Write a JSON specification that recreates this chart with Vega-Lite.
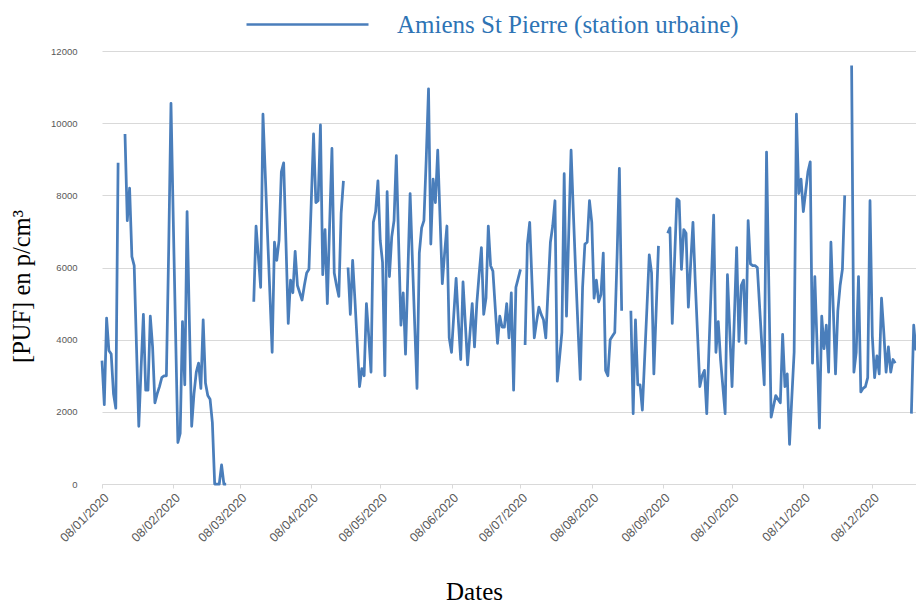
{
  "$schema": "https://vega.github.io/schema/vega-lite/v6.json",
  "width": 814,
  "height": 433,
  "autosize": {"type": "none"},
  "padding": {"left": 102, "top": 51, "right": 0, "bottom": 119},
  "background": "white",
  "config": {"view": {"stroke": null}},
  "data": {"values": [
    {"date":"2020-01-08","pm":3420},{"date":"2020-01-09","pm":2200},{"date":"2020-01-10","pm":4600},{"date":"2020-01-11","pm":3700},{"date":"2020-01-12","pm":3600},{"date":"2020-01-13","pm":2500},{"date":"2020-01-14","pm":2100},{"date":"2020-01-15","pm":8900},{"date":"2020-01-16","pm":null},{"date":"2020-01-18","pm":9700},{"date":"2020-01-19","pm":7300},{"date":"2020-01-20","pm":8200},{"date":"2020-01-21","pm":6300},{"date":"2020-01-22","pm":6050},{"date":"2020-01-23","pm":3800},{"date":"2020-01-24","pm":1600},{"date":"2020-01-25","pm":3200},{"date":"2020-01-26","pm":4700},{"date":"2020-01-27","pm":2600},{"date":"2020-01-28","pm":2600},{"date":"2020-01-29","pm":4650},{"date":"2020-01-30","pm":3800},{"date":"2020-01-31","pm":2250},
    {"date":"2020-02-01","pm":2500},{"date":"2020-02-02","pm":2700},{"date":"2020-02-03","pm":2950},{"date":"2020-02-04","pm":3000},{"date":"2020-02-05","pm":3000},{"date":"2020-02-06","pm":6500},{"date":"2020-02-07","pm":10550},{"date":"2020-02-08","pm":7300},{"date":"2020-02-09","pm":4200},{"date":"2020-02-10","pm":1150},{"date":"2020-02-11","pm":1400},{"date":"2020-02-12","pm":4500},{"date":"2020-02-13","pm":2750},{"date":"2020-02-14","pm":7550},{"date":"2020-02-15","pm":4500},{"date":"2020-02-16","pm":1600},{"date":"2020-02-17","pm":2500},{"date":"2020-02-18","pm":3100},{"date":"2020-02-19","pm":3350},{"date":"2020-02-20","pm":2650},{"date":"2020-02-21","pm":4550},{"date":"2020-02-22","pm":2800},{"date":"2020-02-23","pm":2450},{"date":"2020-02-24","pm":2350},{"date":"2020-02-25","pm":1700},{"date":"2020-02-26","pm":0},{"date":"2020-02-27","pm":0},{"date":"2020-02-28","pm":0},{"date":"2020-02-29","pm":530},
    {"date":"2020-03-01","pm":0},{"date":"2020-03-02","pm":0},{"date":"2020-03-03","pm":null},{"date":"2020-03-14","pm":5050},{"date":"2020-03-15","pm":7150},{"date":"2020-03-16","pm":6300},{"date":"2020-03-17","pm":5450},{"date":"2020-03-18","pm":10250},{"date":"2020-03-19","pm":8600},{"date":"2020-03-20","pm":6900},{"date":"2020-03-21","pm":5300},{"date":"2020-03-22","pm":3650},{"date":"2020-03-23","pm":6700},{"date":"2020-03-24","pm":6200},{"date":"2020-03-25","pm":6750},{"date":"2020-03-26","pm":8650},{"date":"2020-03-27","pm":8900},{"date":"2020-03-28","pm":6700},{"date":"2020-03-29","pm":4450},{"date":"2020-03-30","pm":5650},{"date":"2020-03-31","pm":5300},
    {"date":"2020-04-01","pm":6450},{"date":"2020-04-02","pm":5500},{"date":"2020-04-03","pm":5300},{"date":"2020-04-04","pm":5100},{"date":"2020-04-05","pm":5500},{"date":"2020-04-06","pm":5850},{"date":"2020-04-07","pm":5950},{"date":"2020-04-08","pm":7800},{"date":"2020-04-09","pm":9700},{"date":"2020-04-10","pm":7800},{"date":"2020-04-11","pm":7850},{"date":"2020-04-12","pm":9950},{"date":"2020-04-13","pm":5800},{"date":"2020-04-14","pm":7050},{"date":"2020-04-15","pm":5000},{"date":"2020-04-16","pm":7200},{"date":"2020-04-17","pm":9300},{"date":"2020-04-18","pm":5850},{"date":"2020-04-19","pm":5500},{"date":"2020-04-20","pm":5200},{"date":"2020-04-21","pm":7500},{"date":"2020-04-22","pm":8400},{"date":"2020-04-23","pm":null},{"date":"2020-04-24","pm":6000},{"date":"2020-04-25","pm":4700},{"date":"2020-04-26","pm":6200},{"date":"2020-04-27","pm":5100},{"date":"2020-04-28","pm":3900},{"date":"2020-04-29","pm":2700},{"date":"2020-04-30","pm":3200},
    {"date":"2020-05-01","pm":3000},{"date":"2020-05-02","pm":5000},{"date":"2020-05-03","pm":4100},{"date":"2020-05-04","pm":3100},{"date":"2020-05-05","pm":7250},{"date":"2020-05-06","pm":7550},{"date":"2020-05-07","pm":8400},{"date":"2020-05-08","pm":6750},{"date":"2020-05-09","pm":6150},{"date":"2020-05-10","pm":3000},{"date":"2020-05-11","pm":8100},{"date":"2020-05-12","pm":5750},{"date":"2020-05-13","pm":6850},{"date":"2020-05-14","pm":7300},{"date":"2020-05-15","pm":9100},{"date":"2020-05-16","pm":6700},{"date":"2020-05-17","pm":4400},{"date":"2020-05-18","pm":5300},{"date":"2020-05-19","pm":3600},{"date":"2020-05-20","pm":5800},{"date":"2020-05-21","pm":8050},{"date":"2020-05-22","pm":6200},{"date":"2020-05-23","pm":4400},{"date":"2020-05-24","pm":2650},{"date":"2020-05-25","pm":6400},{"date":"2020-05-26","pm":7100},{"date":"2020-05-27","pm":7300},{"date":"2020-05-28","pm":9000},{"date":"2020-05-29","pm":10950},{"date":"2020-05-30","pm":6650},{"date":"2020-05-31","pm":8450},
    {"date":"2020-06-01","pm":7800},{"date":"2020-06-02","pm":9250},{"date":"2020-06-03","pm":7400},{"date":"2020-06-04","pm":5550},{"date":"2020-06-05","pm":6400},{"date":"2020-06-06","pm":7150},{"date":"2020-06-07","pm":4050},{"date":"2020-06-08","pm":3650},{"date":"2020-06-09","pm":4700},{"date":"2020-06-10","pm":5700},{"date":"2020-06-11","pm":4500},{"date":"2020-06-12","pm":3450},{"date":"2020-06-13","pm":5600},{"date":"2020-06-14","pm":4450},{"date":"2020-06-15","pm":3300},{"date":"2020-06-16","pm":4150},{"date":"2020-06-17","pm":5000},{"date":"2020-06-18","pm":3800},{"date":"2020-06-19","pm":5000},{"date":"2020-06-20","pm":5800},{"date":"2020-06-21","pm":6550},{"date":"2020-06-22","pm":4700},{"date":"2020-06-23","pm":5150},{"date":"2020-06-24","pm":7150},{"date":"2020-06-25","pm":6050},{"date":"2020-06-26","pm":5900},{"date":"2020-06-27","pm":4900},{"date":"2020-06-28","pm":3900},{"date":"2020-06-29","pm":4650},{"date":"2020-06-30","pm":4350},
    {"date":"2020-07-01","pm":4350},{"date":"2020-07-02","pm":5000},{"date":"2020-07-03","pm":4050},{"date":"2020-07-04","pm":5300},{"date":"2020-07-05","pm":2600},{"date":"2020-07-06","pm":5450},{"date":"2020-07-07","pm":5700},{"date":"2020-07-08","pm":5950},{"date":"2020-07-09","pm":null},{"date":"2020-07-10","pm":3850},{"date":"2020-07-11","pm":6650},{"date":"2020-07-12","pm":7250},{"date":"2020-07-13","pm":5600},{"date":"2020-07-14","pm":4050},{"date":"2020-07-15","pm":4500},{"date":"2020-07-16","pm":4900},{"date":"2020-07-17","pm":4700},{"date":"2020-07-18","pm":4550},{"date":"2020-07-19","pm":4050},{"date":"2020-07-20","pm":5400},{"date":"2020-07-21","pm":6700},{"date":"2020-07-22","pm":7150},{"date":"2020-07-23","pm":7850},{"date":"2020-07-24","pm":2850},{"date":"2020-07-25","pm":3500},{"date":"2020-07-26","pm":4200},{"date":"2020-07-27","pm":8600},{"date":"2020-07-28","pm":4650},{"date":"2020-07-29","pm":7000},{"date":"2020-07-30","pm":9250},{"date":"2020-07-31","pm":7500},
    {"date":"2020-08-01","pm":5850},{"date":"2020-08-02","pm":4350},{"date":"2020-08-03","pm":2900},{"date":"2020-08-04","pm":5450},{"date":"2020-08-05","pm":6650},{"date":"2020-08-06","pm":6700},{"date":"2020-08-07","pm":7850},{"date":"2020-08-08","pm":7250},{"date":"2020-08-09","pm":5150},{"date":"2020-08-10","pm":5650},{"date":"2020-08-11","pm":5050},{"date":"2020-08-12","pm":5250},{"date":"2020-08-13","pm":6400},{"date":"2020-08-14","pm":3150},{"date":"2020-08-15","pm":3000},{"date":"2020-08-16","pm":4000},{"date":"2020-08-17","pm":4100},{"date":"2020-08-18","pm":4200},{"date":"2020-08-19","pm":6300},{"date":"2020-08-20","pm":8750},{"date":"2020-08-21","pm":4800},{"date":"2020-08-22","pm":null},{"date":"2020-08-25","pm":4800},{"date":"2020-08-26","pm":1950},{"date":"2020-08-27","pm":4550},{"date":"2020-08-28","pm":2750},{"date":"2020-08-29","pm":2750},{"date":"2020-08-30","pm":2050},{"date":"2020-08-31","pm":3500},
    {"date":"2020-09-01","pm":4900},{"date":"2020-09-02","pm":6350},{"date":"2020-09-03","pm":5850},{"date":"2020-09-04","pm":3050},{"date":"2020-09-05","pm":4800},{"date":"2020-09-06","pm":6600},{"date":"2020-09-07","pm":null},{"date":"2020-09-10","pm":6950},{"date":"2020-09-11","pm":7100},{"date":"2020-09-12","pm":4450},{"date":"2020-09-13","pm":6200},{"date":"2020-09-14","pm":7900},{"date":"2020-09-15","pm":7850},{"date":"2020-09-16","pm":5950},{"date":"2020-09-17","pm":7050},{"date":"2020-09-18","pm":6950},{"date":"2020-09-19","pm":4900},{"date":"2020-09-20","pm":6100},{"date":"2020-09-21","pm":7250},{"date":"2020-09-22","pm":5600},{"date":"2020-09-23","pm":4150},{"date":"2020-09-24","pm":2700},{"date":"2020-09-25","pm":3000},{"date":"2020-09-26","pm":3150},{"date":"2020-09-27","pm":1950},{"date":"2020-09-28","pm":3800},{"date":"2020-09-29","pm":5600},{"date":"2020-09-30","pm":7450},
    {"date":"2020-10-01","pm":3650},{"date":"2020-10-02","pm":4500},{"date":"2020-10-03","pm":3450},{"date":"2020-10-04","pm":2700},{"date":"2020-10-05","pm":1950},{"date":"2020-10-06","pm":5800},{"date":"2020-10-07","pm":4250},{"date":"2020-10-08","pm":2700},{"date":"2020-10-09","pm":4600},{"date":"2020-10-10","pm":6550},{"date":"2020-10-11","pm":3950},{"date":"2020-10-12","pm":5500},{"date":"2020-10-13","pm":5650},{"date":"2020-10-14","pm":3900},{"date":"2020-10-15","pm":7300},{"date":"2020-10-16","pm":6100},{"date":"2020-10-17","pm":6050},{"date":"2020-10-18","pm":6050},{"date":"2020-10-19","pm":6000},{"date":"2020-10-20","pm":4900},{"date":"2020-10-21","pm":3800},{"date":"2020-10-22","pm":2750},{"date":"2020-10-23","pm":9200},{"date":"2020-10-24","pm":5500},{"date":"2020-10-25","pm":1850},{"date":"2020-10-26","pm":2150},{"date":"2020-10-27","pm":2450},{"date":"2020-10-28","pm":2350},{"date":"2020-10-29","pm":2250},{"date":"2020-10-30","pm":4150},{"date":"2020-10-31","pm":2700},
    {"date":"2020-11-01","pm":3050},{"date":"2020-11-02","pm":1100},{"date":"2020-11-03","pm":2400},{"date":"2020-11-04","pm":3650},{"date":"2020-11-05","pm":10250},{"date":"2020-11-06","pm":8050},{"date":"2020-11-07","pm":8450},{"date":"2020-11-08","pm":7550},{"date":"2020-11-09","pm":8100},{"date":"2020-11-10","pm":8650},{"date":"2020-11-11","pm":8930},{"date":"2020-11-12","pm":3350},{"date":"2020-11-13","pm":5750},{"date":"2020-11-14","pm":3800},{"date":"2020-11-15","pm":1550},{"date":"2020-11-16","pm":4650},{"date":"2020-11-17","pm":3750},{"date":"2020-11-18","pm":4400},{"date":"2020-11-19","pm":3100},{"date":"2020-11-20","pm":6700},{"date":"2020-11-21","pm":4900},{"date":"2020-11-22","pm":3050},{"date":"2020-11-23","pm":4800},{"date":"2020-11-24","pm":5500},{"date":"2020-11-25","pm":5950},{"date":"2020-11-26","pm":8000},{"date":"2020-11-27","pm":null},{"date":"2020-11-29","pm":11600},{"date":"2020-11-30","pm":3100},
    {"date":"2020-12-01","pm":3650},{"date":"2020-12-02","pm":5750},{"date":"2020-12-03","pm":2550},{"date":"2020-12-04","pm":2650},{"date":"2020-12-05","pm":2700},{"date":"2020-12-06","pm":2950},{"date":"2020-12-07","pm":7850},{"date":"2020-12-08","pm":4100},{"date":"2020-12-09","pm":2950},{"date":"2020-12-10","pm":3550},{"date":"2020-12-11","pm":3050},{"date":"2020-12-12","pm":5150},{"date":"2020-12-13","pm":4200},{"date":"2020-12-14","pm":3100},{"date":"2020-12-15","pm":3800},{"date":"2020-12-16","pm":3100},{"date":"2020-12-17","pm":3450},{"date":"2020-12-18","pm":3350},{"date":"2020-12-19","pm":null},{"date":"2020-12-25","pm":1950},{"date":"2020-12-26","pm":4400},{"date":"2020-12-27","pm":3700}
  ]},
  "mark": {"type": "line", "strokeWidth": 2.75, "strokeJoin": "round", "strokeCap": "butt", "invalid": "break-paths-show-domains"},
  "encoding": {
    "x": {
      "field": "date",
      "type": "temporal",
      "scale": {"type": "utc", "domain": [{"year": 2020, "month": 1, "date": 8, "utc": true}, {"year": 2020, "month": 12, "date": 27, "utc": true}]},
      "axis": {
        "values": [
          {"year": 2020, "month": 1, "date": 8, "utc": true},
          {"year": 2020, "month": 2, "date": 8, "utc": true},
          {"year": 2020, "month": 3, "date": 8, "utc": true},
          {"year": 2020, "month": 4, "date": 8, "utc": true},
          {"year": 2020, "month": 5, "date": 8, "utc": true},
          {"year": 2020, "month": 6, "date": 8, "utc": true},
          {"year": 2020, "month": 7, "date": 8, "utc": true},
          {"year": 2020, "month": 8, "date": 8, "utc": true},
          {"year": 2020, "month": 9, "date": 8, "utc": true},
          {"year": 2020, "month": 10, "date": 8, "utc": true},
          {"year": 2020, "month": 11, "date": 8, "utc": true},
          {"year": 2020, "month": 12, "date": 8, "utc": true}
        ],
        "format": "%d/%m/%Y",
        "labelAngle": -45,
        "labelAlign": "right",
        "labelBaseline": "top",
        "labelFont": "Liberation Sans",
        "labelFontSize": 12.5,
        "labelColor": "#595959",
        "labelPadding": 3,
        "labelOverlap": false,
        "labelFlush": false,
        "domainColor": "#d9d9d9",
        "domainWidth": 1,
        "tickColor": "#d9d9d9",
        "tickSize": 4,
        "grid": false,
        "title": "Dates",
        "titleFont": "Liberation Serif",
        "titleFontSize": 25,
        "titleFontWeight": "normal",
        "titleColor": "#000000",
        "titleAnchor": "start",
        "titleAlign": "center",
        "titleBaseline": "alphabetic",
        "titleX": 372,
        "titleY": 115
      }
    },
    "y": {
      "field": "pm",
      "type": "quantitative",
      "scale": {"domain": [0, 12000], "nice": false, "zero": true},
      "axis": {
        "values": [0, 2000, 4000, 6000, 8000, 10000, 12000],
        "format": "d",
        "domain": false,
        "ticks": false,
        "grid": true,
        "gridColor": "#d9d9d9",
        "gridWidth": 1,
        "labelFont": "Liberation Sans",
        "labelFontSize": 9.5,
        "labelColor": "#595959",
        "labelPadding": 25,
        "title": "[PUF] en p/cm³",
        "titleFont": "Liberation Serif",
        "titleFontSize": 24.5,
        "titleFontWeight": "normal",
        "titleColor": "#000000",
        "titleAngle": -90,
        "titleAlign": "center",
        "titleBaseline": "middle",
        "titleX": -80,
        "titleY": 235
      }
    },
    "color": {
      "datum": "Amiens St Pierre (station urbaine)",
      "scale": {"range": ["#4a7ebb"]},
      "legend": {
        "orient": "none",
        "legendX": 143,
        "legendY": -89,
        "title": null,
        "symbolType": "stroke",
        "symbolSize": 14884,
        "symbolStrokeWidth": 2.5,
        "labelFont": "Liberation Serif",
        "labelFontSize": 25,
        "labelColor": "#2e74b5",
        "labelOffset": 27,
        "labelLimit": 0
      }
    }
  }
}
